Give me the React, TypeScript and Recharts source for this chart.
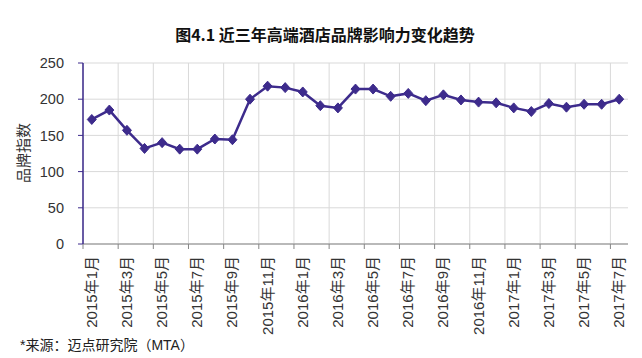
import React from "react";
import { LineChart, Line, XAxis, YAxis, CartesianGrid } from "recharts";

const months = [
  "2015年1月", "2015年2月", "2015年3月", "2015年4月", "2015年5月", "2015年6月",
  "2015年7月", "2015年8月", "2015年9月", "2015年10月", "2015年11月", "2015年12月",
  "2016年1月", "2016年2月", "2016年3月", "2016年4月", "2016年5月", "2016年6月",
  "2016年7月", "2016年8月", "2016年9月", "2016年10月", "2016年11月", "2016年12月",
  "2017年1月", "2017年2月", "2017年3月", "2017年4月", "2017年5月", "2017年6月",
  "2017年7月",
];
const brandIndex = [
  172, 185, 157, 132, 140, 131, 131, 145, 144, 200, 218, 216,
  210, 191, 188, 214, 214, 204, 208, 198, 206, 199, 196, 195,
  188, 183, 194, 189, 193, 193, 200,
];
const yTicks = [0, 50, 100, 150, 200, 250];

const title = "图4.1 近三年高端酒店品牌影响力变化趋势";
const yLabel = "品牌指数";
const source = "*来源：迈点研究院（MTA）";

const data = months.map((m, i) => ({ month: m, value: brandIndex[i] }));

const W = 642;
const H = 358;
const M = { top: 63, right: 14, left: 0, bottom: 0 };
const Y_AXIS_W = 83;
const X_AXIS_H = 114;
const PLOT_W = W - M.left - M.right - Y_AXIS_W;
const BAND = PLOT_W / data.length;

const LINE = "#3d2b8c";
const FONT = "'Liberation Sans', 'Noto Sans CJK SC', sans-serif";

const Diamond = (props: any) => {
  const { cx, cy } = props;
  if (cx == null || cy == null) return null;
  return (
    <polygon
      points={`${cx},${cy - 5} ${cx + 4.5},${cy} ${cx},${cy + 5} ${cx - 4.5},${cy}`}
      fill={LINE}
      stroke={LINE}
      strokeWidth={1}
    />
  );
};

const XTick = (props: any) => {
  const { x, y, payload } = props;
  const axisY = y - 5;
  const bx = x - BAND / 2;
  return (
    <g>
      <line x1={bx} y1={axisY} x2={bx} y2={axisY + 5} stroke="#868686" strokeWidth={1} />
      <text
        x={0}
        y={0}
        transform={`translate(${x + 5},${axisY + 12}) rotate(-90)`}
        textAnchor="end"
        fontSize={15}
        fill="#333"
        fontFamily={FONT}
      >
        {payload.value}
      </text>
    </g>
  );
};

export default function App() {
  return (
    <div style={{ position: "absolute", left: 0, top: 0, width: W, height: H, background: "#fff", fontFamily: FONT }}>
      <div
        style={{
          position: "absolute",
          left: 0,
          width: W + 8,
          top: 23,
          textAlign: "center",
          fontSize: 16,
          fontWeight: "bold",
          color: "#111",
          lineHeight: "22px",
          fontFamily: "'Noto Sans CJK SC', sans-serif",
        }}
      >
        {title}
      </div>
      <div
        style={{
          position: "absolute",
          left: 23 - 40,
          top: 153 - 10,
          width: 80,
          height: 20,
          lineHeight: "20px",
          textAlign: "center",
          transform: "rotate(-90deg)",
          fontSize: 15,
          color: "#333",
          fontFamily: "'Noto Sans CJK SC', sans-serif",
        }}
      >
        {yLabel}
      </div>
      <div
        style={{
          position: "absolute",
          left: 20,
          top: 335,
          fontSize: 14,
          lineHeight: "20px",
          color: "#222",
          fontFamily: FONT,
          whiteSpace: "nowrap",
        }}
      >
        {source}
      </div>
      <LineChart width={W} height={H} data={data} margin={M}>
        <CartesianGrid
          stroke="#d9d9d9"
          strokeWidth={1}
          verticalCoordinatesGenerator={({ offset }: any) => {
            const pts: number[] = [];
            const band = offset.width / data.length;
            for (let i = 0; i < data.length; i += 2) pts.push(offset.left + i * band);
            return pts;
          }}
        />
        <XAxis
          dataKey="month"
          scale="band"
          interval={1}
          height={X_AXIS_H}
          axisLine={{ stroke: "#868686", strokeWidth: 1 }}
          tickLine={false}
          tickSize={5}
          tickMargin={0}
          tick={<XTick />}
        />
        <YAxis
          width={Y_AXIS_W}
          domain={[0, 250]}
          ticks={yTicks}
          interval={0}
          axisLine={{ stroke: LINE, strokeWidth: 1.5 }}
          tickLine={{ stroke: LINE, strokeWidth: 1 }}
          tickSize={5}
          tickMargin={14}
          tick={{ fontSize: 14.5, fill: "#333", fontFamily: FONT }}
        />
        <Line
          type="linear"
          dataKey="value"
          stroke={LINE}
          strokeWidth={2.5}
          dot={<Diamond />}
          activeDot={false}
          isAnimationActive={false}
        />
      </LineChart>
    </div>
  );
}
